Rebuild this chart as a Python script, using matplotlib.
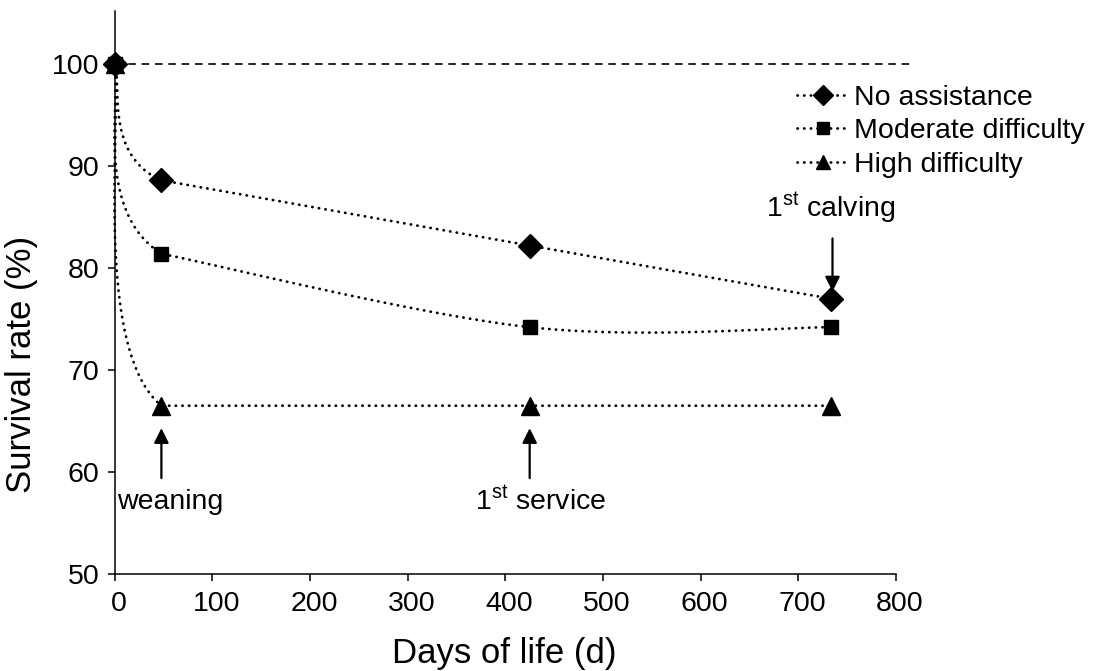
import numpy as np
import matplotlib
matplotlib.use("Agg")
import matplotlib.pyplot as plt
import matplotlib.transforms as mtransforms
from matplotlib.lines import Line2D

plt.rcParams['font.family'] = ['Liberation Sans', 'DejaVu Sans']
plt.rcParams['mathtext.fontset'] = 'custom'
plt.rcParams['mathtext.rm'] = 'Liberation Sans'

# ---- data ----
days = [0, 48, 425, 733]
no_assistance = [100, 88.6, 82.2, 77.0]
moderate_difficulty = [100, 81.4, 74.2, 74.2]
high_difficulty = [100, 66.5, 66.5, 66.5]
series_names = ["No assistance", "Moderate difficulty", "High difficulty"]
series_markers = ["D", "s", "^"]
x_ticks = [0, 100, 200, 300, 400, 500, 600, 700, 800]
y_ticks = [50, 60, 70, 80, 90, 100]
reference_level = 100

fig = plt.figure(figsize=(11.01, 6.71), dpi=100)
ax = fig.add_axes([114.5/1101, 1-574/671, (896-114.5)/1101, (574-11)/671])
ax.set_xlim(0, 800)
ax.set_ylim(50, 105.2)

for s in ['top', 'right']:
    ax.spines[s].set_visible(False)
for s in ['left', 'bottom']:
    ax.spines[s].set_linewidth(1.1)
ax.set_xticks(x_ticks)
ax.set_yticks(y_ticks)
ax.tick_params(direction='out', length=5, width=1.1, labelsize=20.5, pad=6)
ax.tick_params(axis='x', pad=7)
offset = mtransforms.ScaledTranslation(4/100, 0, fig.dpi_scale_trans)
for lab in ax.get_xticklabels():
    lab.set_transform(lab.get_transform() + offset)

ax.set_xlabel("Days of life (d)", fontsize=25)
ax.set_ylabel("Survival rate (%)", fontsize=25)
ax.xaxis.set_label_coords((504-114.5)/781.5, (574-637)/563)
ax.yaxis.set_label_coords((38-114.5)/781.5, (574-364)/563)

# dashed 100% reference line
ax.plot([0, 815], [reference_level, reference_level], color='k', lw=1.2,
        linestyle=(0, (4.5, 3.5)), clip_on=False, zorder=1)

dotted = (0, (0.1, 2.3))


def bezier_curve(xs, ys):
    """Excel-like smoothed curve, computed in pixel space."""
    pts = ax.transData.transform(np.column_stack([xs, ys]))
    n = len(pts)
    out = []
    for i in range(n - 1):
        p0 = pts[max(i - 1, 0)]
        p1 = pts[i]
        p2 = pts[i + 1]
        p3 = pts[min(i + 2, n - 1)]
        seg = np.linalg.norm(p2 - p1)
        t1 = (p2 - p0) / 6.0
        t2 = (p3 - p1) / 6.0
        for t in (t1, t2):
            L = np.linalg.norm(t)
            if L > seg / 2:
                t *= (seg / 2) / L
        c1 = p1 + t1
        c2 = p2 - t2
        tt = np.linspace(0, 1, 80)[:, None]
        b = ((1 - tt) ** 3) * p1 + 3 * ((1 - tt) ** 2) * tt * c1 + \
            3 * (1 - tt) * tt ** 2 * c2 + tt ** 3 * p2
        out.append(b)
    return ax.transData.inverted().transform(np.vstack(out))


def smooth_series(xs, ys):
    # first segment uses the whole series, later ones start from weaning
    full = bezier_curve(xs, ys)
    first = full[:80]
    rest = bezier_curve(xs[1:], ys[1:])
    return np.vstack([first, rest])


all_series = [no_assistance, moderate_difficulty, high_difficulty]
msizes = {"D": 12, "s": 9.8, "^": 12.5}
handles = []
for vals, name, mk in zip(all_series, series_names, series_markers):
    curve = smooth_series(days, vals)
    ax.plot(curve[:, 0], curve[:, 1], color='k', lw=2.0, linestyle=dotted,
            dash_capstyle='round', clip_on=False, zorder=2)
    ax.plot(days, vals, linestyle='none', marker=mk, ms=msizes[mk], color='k',
            clip_on=False, zorder=3)
    handles.append(Line2D([], [], color='k', lw=2.0, linestyle=dotted,
                          dash_capstyle='round', marker=mk, ms=msizes[mk] * 0.85,
                          label=name))

fig.legend(handles=handles, loc='upper left', bbox_to_anchor=(797/1101, 1-85/671),
           frameon=False, fontsize=20.5, handlelength=1.85, handletextpad=0.14,
           labelspacing=0.26, borderpad=0, borderaxespad=0)

arrow = dict(arrowstyle='-|>', color='k', lw=1.6, mutation_scale=22,
             shrinkA=0, shrinkB=0)
ax.annotate("", xy=(735, 77.7), xytext=(735, 82.9), arrowprops=arrow)
ax.text(733, 84.2, "1$^{\\mathrm{st}}$ calving", ha='center', va='bottom', fontsize=20.5)
ax.annotate("", xy=(48, 64.3), xytext=(48, 59.4), arrowprops=arrow)
ax.text(3, 58.3, "weaning", ha='left', va='top', fontsize=20.5)
ax.annotate("", xy=(425, 64.3), xytext=(425, 59.4), arrowprops=arrow)
ax.text(436, 58.5, "1$^{\\mathrm{st}}$ service", ha='center', va='top', fontsize=20.5)

fig.savefig("out.png", dpi=100)
